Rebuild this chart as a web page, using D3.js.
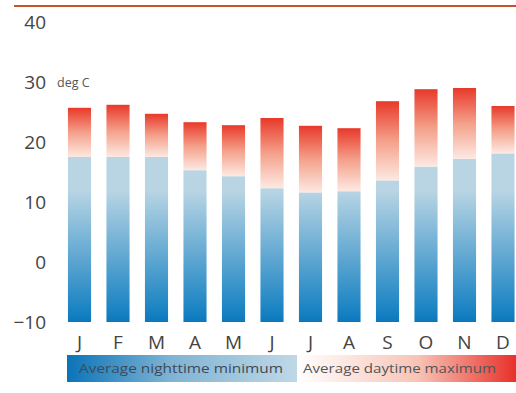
<!DOCTYPE html>
<html><head><meta charset="utf-8">
<script src="https://cdn.jsdelivr.net/npm/d3@7"></script>
<style>body{margin:0;background:#fff}svg{display:block}</style>
</head><body>
<svg id="c" width="516" height="393"></svg>
<script>
const months = ["J","F","M","A","M","J","J","A","S","O","N","D"];
const nightMin = [17.5,17.5,17.5,15.3,14.3,12.3,11.6,11.8,13.6,15.9,17.2,18.1];
const dayMax = [25.7,26.2,24.7,23.3,22.8,24.0,22.7,22.3,26.8,28.8,29.0,26.0];
const yTicks = [-10,0,10,20,30,40];
const legendLabels = ["Average nighttime minimum","Average daytime maximum"];
const unitLabel = "deg C";

const svg = d3.select("#c");
const font = "'Open Sans', 'Liberation Sans', sans-serif";
const y = d3.scaleLinear().domain([-10,40]).range([322,22]);
const x = d3.scaleBand().domain(d3.range(12)).range([60.25,522.25]).paddingInner(0.4).paddingOuter(0.2);

const defs = svg.append("defs");
const bg = defs.append("linearGradient").attr("id","blueG").attr("gradientUnits","userSpaceOnUse")
  .attr("x1",0).attr("x2",0).attr("y1",y(-10)).attr("y2",y(12));
bg.append("stop").attr("offset",0).attr("stop-color","#0a78bd");
bg.append("stop").attr("offset",0.12).attr("stop-color","#1f86c4");
bg.append("stop").attr("offset",1).attr("stop-color","#b9d5e4");
const rg = defs.append("linearGradient").attr("id","redG").attr("x1",0).attr("x2",0).attr("y1",0).attr("y2",1);
rg.append("stop").attr("offset",0).attr("stop-color","#e8392a");
rg.append("stop").attr("offset",0.5).attr("stop-color","#f4a08a");
rg.append("stop").attr("offset",1).attr("stop-color","#fde9e2");
const lb = defs.append("linearGradient").attr("id","legB");
lb.append("stop").attr("offset",0).attr("stop-color","#0a74b8");
lb.append("stop").attr("offset",0.45).attr("stop-color","#7fb3d3");
lb.append("stop").attr("offset",1).attr("stop-color","#c0d8e6");
const lr = defs.append("linearGradient").attr("id","legR");
lr.append("stop").attr("offset",0).attr("stop-color","#ffffff");
lr.append("stop").attr("offset",0.55).attr("stop-color","#f8c4b6");
lr.append("stop").attr("offset",1).attr("stop-color","#e8302a");

// top rule
svg.append("line").attr("x1",14).attr("x2",516).attr("y1",6).attr("y2",6)
  .attr("stroke","#c9522c").attr("stroke-width",2);

// y axis
const yAxis = d3.axisLeft(y).tickValues(yTicks).tickSize(0).tickPadding(0);
const ga = svg.append("g").attr("transform","translate(46,0)").call(yAxis);
ga.select(".domain").remove();
ga.selectAll("text").attr("font-family",font).attr("font-size",19).attr("fill","#444").attr("dy","0.35em");

svg.append("text").attr("x",57).attr("y",y(30)+5).attr("font-family",font).attr("font-size",12.5)
  .attr("fill","#555").text(unitLabel);

// bars
svg.append("g").selectAll("rect").data(nightMin).join("rect")
  .attr("x",(d,i)=>x(i)).attr("width",x.bandwidth())
  .attr("y",d=>y(d)).attr("height",d=>y(-10)-y(d)).attr("fill","url(#blueG)");
svg.append("g").selectAll("rect").data(dayMax).join("rect")
  .attr("x",(d,i)=>x(i)).attr("width",x.bandwidth())
  .attr("y",d=>y(d)).attr("height",(d,i)=>y(nightMin[i])-y(d)).attr("fill","url(#redG)");

// x axis
const xAxis = d3.axisBottom(x).tickFormat(i=>months[i]).tickSize(0).tickPadding(0);
const gx = svg.append("g").attr("transform","translate(0,335)").call(xAxis);
gx.select(".domain").remove();
gx.selectAll("text").attr("font-family",font).attr("font-size",19).attr("fill","#444").attr("dy","0.75em");

// legend
svg.append("rect").attr("x",67).attr("y",355).attr("width",230).attr("height",27).attr("fill","url(#legB)");
svg.append("rect").attr("x",297).attr("y",355).attr("width",219).attr("height",27).attr("fill","url(#legR)");
svg.append("text").attr("x",79).attr("y",373).attr("font-family",font).attr("font-size",13)
  .attr("fill","#3d4a57").attr("textLength",204).attr("lengthAdjust","spacingAndGlyphs").text(legendLabels[0]);
svg.append("text").attr("x",303).attr("y",373).attr("font-family",font).attr("font-size",13)
  .attr("fill","#555").attr("textLength",193).attr("lengthAdjust","spacingAndGlyphs").text(legendLabels[1]);
</script>
</body></html>
